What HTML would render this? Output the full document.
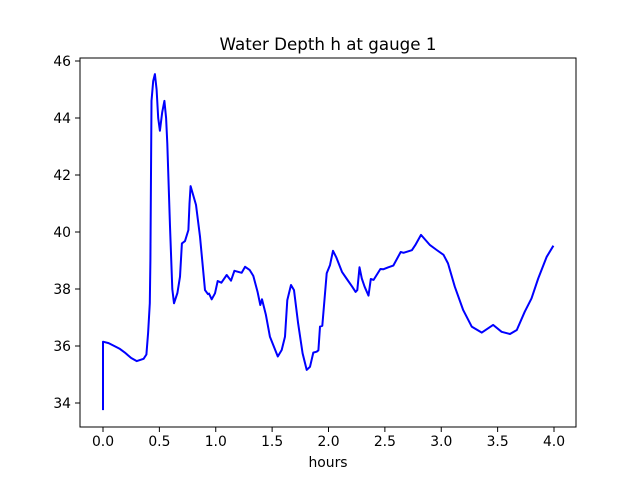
<!DOCTYPE html>
<html><head><meta charset="utf-8"><style>body{margin:0;background:#fff}svg{display:block;font-family:"DejaVu Sans","Liberation Sans",sans-serif}</style></head>
<body>
<svg id="c" width="640" height="480"></svg>
<script>
const hours=[0,0,0.05,0.1,0.15,0.2,0.25,0.3,0.36,0.385,0.40,0.415,0.42,0.43,0.445,0.46,0.475,0.49,0.505,0.525,0.545,0.56,0.57,0.594,0.615,0.63,0.66,0.683,0.70,0.727,0.757,0.767,0.777,0.825,0.86,0.905,0.93,0.94,0.964,0.993,1.017,1.05,1.097,1.135,1.165,1.23,1.26,1.30,1.333,1.37,1.395,1.41,1.445,1.48,1.55,1.585,1.614,1.635,1.667,1.694,1.73,1.77,1.807,1.836,1.865,1.895,1.91,1.925,1.945,1.984,2.013,2.04,2.07,2.12,2.16,2.21,2.24,2.255,2.275,2.295,2.32,2.355,2.375,2.4,2.46,2.485,2.53,2.575,2.64,2.665,2.74,2.77,2.82,2.9,2.96,3.02,3.06,3.12,3.195,3.27,3.36,3.46,3.535,3.61,3.67,3.74,3.8,3.86,3.935,3.995];
const depth=[33.75,36.15,36.1,36.0,35.9,35.75,35.58,35.47,35.55,35.7,36.46,37.5,39.0,44.6,45.3,45.54,45.0,44.0,43.55,44.2,44.6,44.0,43.1,40.2,38.0,37.5,37.86,38.43,39.6,39.68,40.07,41.0,41.61,40.95,39.84,37.96,37.82,37.84,37.64,37.85,38.28,38.22,38.49,38.29,38.64,38.57,38.78,38.67,38.46,37.91,37.44,37.64,37.09,36.33,35.63,35.86,36.33,37.61,38.14,37.96,36.8,35.74,35.16,35.27,35.77,35.8,35.85,36.68,36.71,38.55,38.84,39.34,39.1,38.6,38.37,38.08,37.9,37.96,38.76,38.37,38.08,37.77,38.35,38.32,38.7,38.69,38.76,38.82,39.3,39.27,39.36,39.54,39.9,39.54,39.37,39.2,38.9,38.08,37.26,36.68,36.47,36.74,36.5,36.42,36.56,37.2,37.67,38.37,39.13,39.52];
const xTicks=[0,0.5,1,1.5,2,2.5,3,3.5,4];
const yTicks=[34,36,38,40,42,44,46];
const xTickLabels=["0.0","0.5","1.0","1.5","2.0","2.5","3.0","3.5","4.0"];
const yTickLabels=["34","36","38","40","42","44","46"];
const NS="http://www.w3.org/2000/svg",svg=document.getElementById('c');
const X=v=>103+v*112.75, Y=v=>61+(46-v)*28.5;
function mk(t,a,p){const e=document.createElementNS(NS,t);for(const k in a)e.setAttribute(k,a[k]);(p||svg).appendChild(e);return e;}
let d='';hours.forEach((h,i)=>{d+=(i?'L':'M')+X(h).toFixed(1)+','+Y(depth[i]).toFixed(1);});
const line=mk('path',{d:d,fill:'none',stroke:'#0000ff','stroke-width':2,'stroke-linejoin':'round'});


const frame=mk('rect',{x:80,y:58,width:496,height:369,fill:'none',stroke:'#000','stroke-width':1});


xTicks.forEach((v,i)=>{const x=X(v);mk('line',{x1:x,x2:x,y1:427,y2:432,stroke:'#000'});
const t=mk('text',{x:x,y:446,'font-size':13.9,'text-anchor':'middle'});t.textContent=xTickLabels[i];

});
yTicks.forEach((v,i)=>{const y=Y(v);mk('line',{x1:75,x2:80,y1:y,y2:y,stroke:'#000'});
const t=mk('text',{x:71,y:y+5,'font-size':13.9,'text-anchor':'end'});t.textContent=yTickLabels[i];

});
const xl=mk('text',{x:328,y:467,'font-size':13.9,'text-anchor':'middle'});xl.textContent='hours';


const ti=mk('text',{x:328,y:50,'font-size':16.7,'text-anchor':'middle'});ti.textContent='Water Depth h at gauge 1';


</script>
</body></html>
